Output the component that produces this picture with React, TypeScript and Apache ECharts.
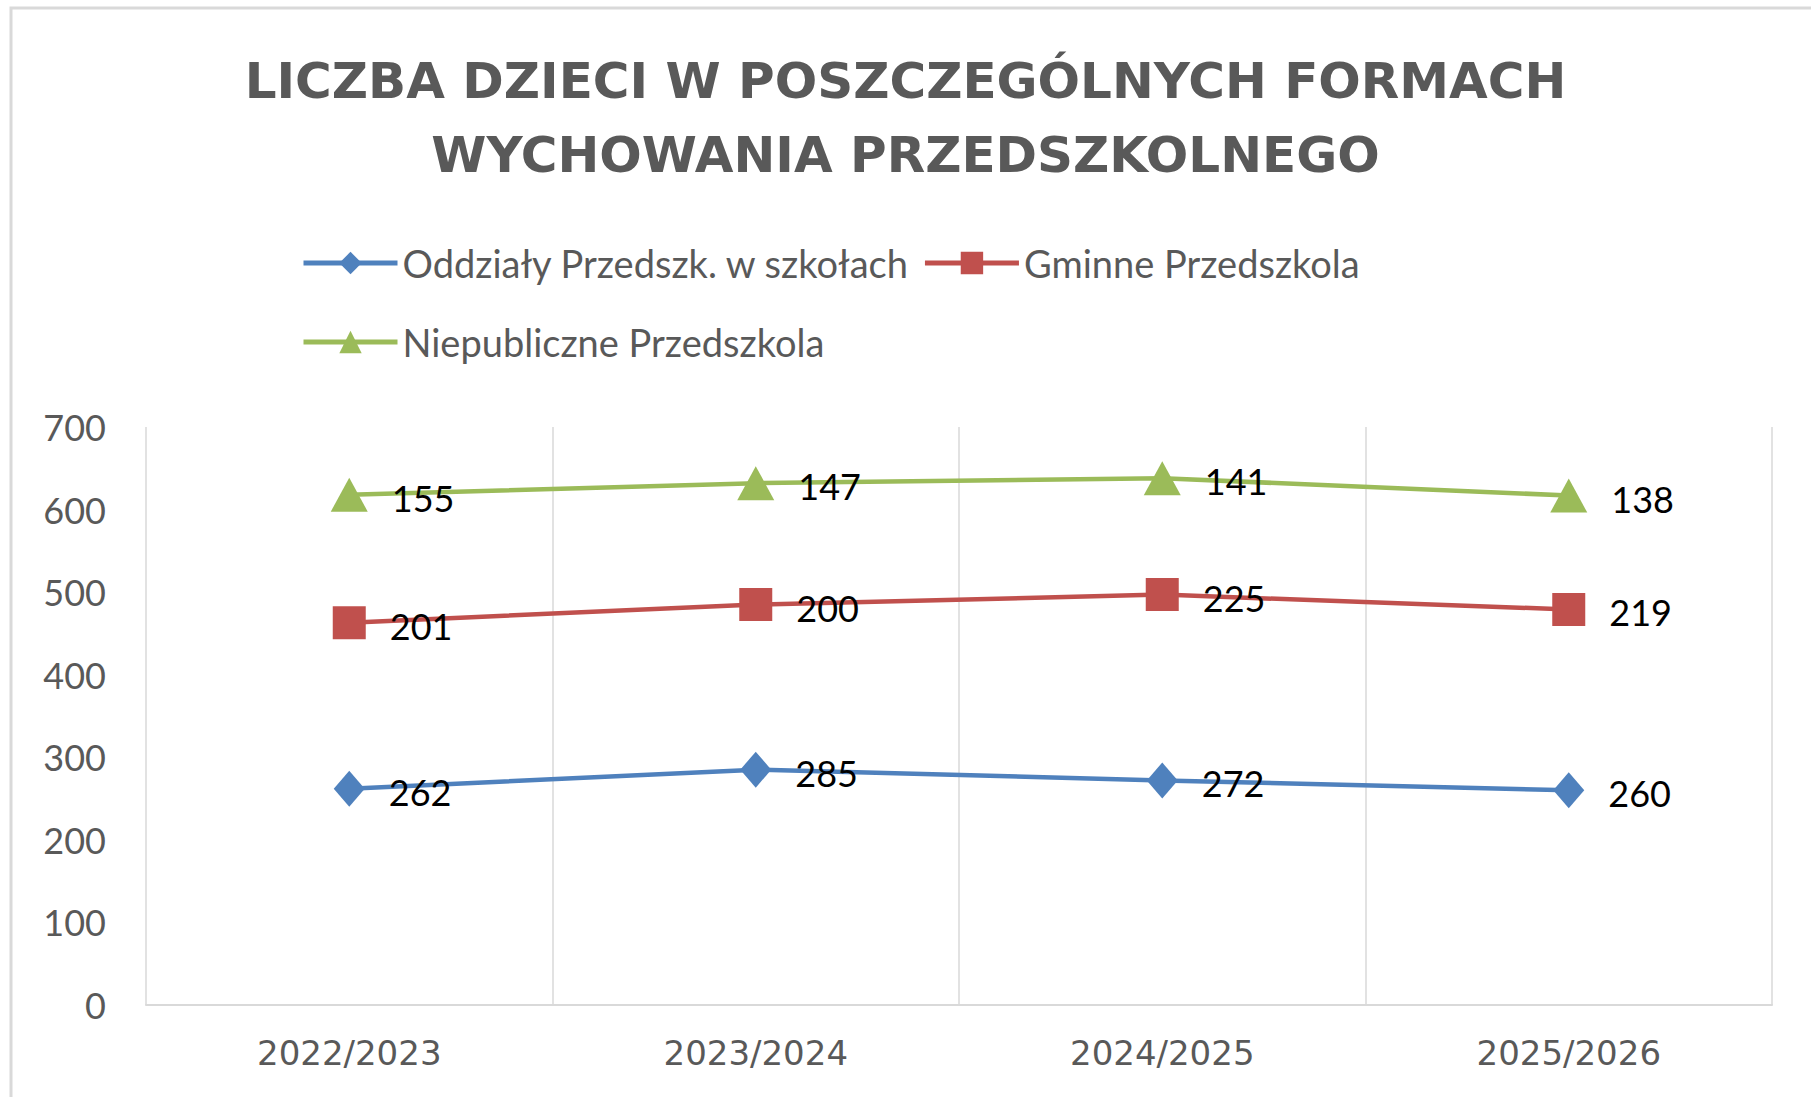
import React, { useEffect, useRef } from "react";
import * as echarts from "echarts";

const categories = ["2022/2023", "2023/2024", "2024/2025", "2025/2026"];
const seriesNames = ["Oddziały Przedszk. w szkołach", "Gminne Przedszkola", "Niepubliczne Przedszkola"];
const oddzialy = [262, 285, 272, 260];
const gminne = [201, 200, 225, 219];
const niepubliczne = [155, 147, 141, 138];
const yTicks = { min: 0, max: 700, interval: 100 };
const titleText = "LICZBA DZIECI W POSZCZEGÓLNYCH FORMACH\nWYCHOWANIA PRZEDSZKOLNEGO";

const colors = ["#4f81bd", "#c0504d", "#9bbb59"];

export default function App() {
  const ref = useRef<HTMLDivElement>(null);
  useEffect(() => {
    document.body.style.margin = "0";
    const chart = echarts.init(ref.current!, undefined, { renderer: "svg" });
    const labelFont = { fontFamily: "Lato", fontSize: 36 };
    const mk = (name: string, data: number[], i: number, symbol: string, size: any) => ({
      name,
      type: "line",
      stack: "total",
      data,
      symbol,
      symbolSize: size,
      lineStyle: { color: colors[i], width: 4.5 },
      itemStyle: { color: colors[i] },
      label: {
        show: true,
        position: "right",
        distance: 24,
        offset: [0, 3],
        color: "#000000",
        ...labelFont,
      },
    });
    const legendText = { fontFamily: "Lato", fontSize: 38, color: "#595959" };
    chart.setOption({
      animation: false,
      backgroundColor: "#ffffff",
      title: {
        text: titleText,
        left: "center",
        top: 44,
        padding: [0, 0, 0, 18],
        textStyle: {
          fontFamily: "DejaVu Sans",
          fontWeight: "bold",
          fontSize: 50,
          lineHeight: 74,
          color: "#595959",
        },
      },
      legend: [
        {
          data: [seriesNames[0], seriesNames[1]],
          left: 301,
          top: 244,
          padding: 0,
          itemWidth: 94,
          itemHeight: 28,
          itemGap: 12,
          lineStyle: { width: 5 },
          textStyle: legendText,
        },
        {
          data: [seriesNames[2]],
          left: 301,
          top: 323,
          padding: 0,
          itemWidth: 94,
          itemHeight: 28,
          lineStyle: { width: 5 },
          textStyle: legendText,
        },
      ],
      graphic: [
        {
          type: "rect",
          shape: { x: 11, y: 8, width: 1900, height: 1200 },
          style: { fill: "none", stroke: "#d9d9d9", lineWidth: 3 },
          silent: true,
        },
      ],
      grid: { left: 146, right: 39, top: 427, bottom: 92, containLabel: false },
      xAxis: {
        type: "category",
        data: categories,
        boundaryGap: true,
        axisLine: { show: true, lineStyle: { color: "#d9d9d9", width: 2 } },
        axisTick: { show: false },
        splitLine: { show: true, lineStyle: { color: "#d9d9d9", width: 1.5 } },
        axisLabel: { margin: 31, color: "#595959", fontFamily: "DejaVu Sans", fontSize: 34 },
      },
      yAxis: {
        type: "value",
        min: yTicks.min,
        max: yTicks.max,
        interval: yTicks.interval,
        axisLine: { show: false },
        axisTick: { show: false },
        splitLine: { show: false },
        axisLabel: { margin: 40, color: "#595959", ...labelFont },
      },
      series: [
        mk(seriesNames[0], oddzialy, 0, "diamond", [31, 36]),
        mk(seriesNames[1], gminne, 1, "rect", 33),
        mk(seriesNames[2], niepubliczne, 2, "triangle", [37, 34]),
      ],
    });
    return () => chart.dispose();
  }, []);
  return <div ref={ref} style={{ width: 1811, height: 1097 }} />;
}
